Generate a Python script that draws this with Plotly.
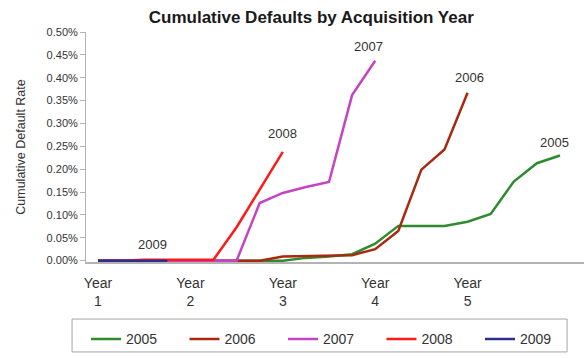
import plotly.graph_objects as go

# Quarter index since acquisition (0 = start of Year 1)
quarters = list(range(21))

# Cumulative default rates (fractions) by acquisition-year cohort
rate_2005 = [0, 0, 0, 0, 0, 0, 0, 0, 0, 0.00006, 0.00009, 0.00014, 0.00037,
             0.00076, 0.00076, 0.00076, 0.00085, 0.00102, 0.00173, 0.00213, 0.00230]
rate_2006 = [0, 0, 0, 0, 0, 0, 0, 0, 0.00009, 0.00010, 0.00011, 0.00012, 0.00025,
             0.00065, 0.00199, 0.00243, 0.00367]
rate_2007 = [0, 0, 0, 0, 0, 0, 0, 0.00126, 0.00148, 0.00161, 0.00172, 0.00362, 0.00437]
rate_2008 = [0, 0, 0.00002, 0.00002, 0.00002, 0.00002, 0.00073, 0.00155, 0.00238]
rate_2009 = [0, 0, 0, 0]

cohorts = ["2005", "2006", "2007", "2008", "2009"]
series = [rate_2005, rate_2006, rate_2007, rate_2008, rate_2009]
colors = ["#2e8b2e", "#a8290f", "#c444c4", "#ff1a1a", "#2e2e8c"]

# Year tick positions and labels
year_ticks = [0, 4, 8, 12, 16]
year_labels = ["Year<br>1", "Year<br>2", "Year<br>3", "Year<br>4", "Year<br>5"]

# Where each cohort's name is written on the chart: (quarter index, xshift, yshift)
label_spots = {
    "2005": (20, -5, 13),
    "2006": (16, 2, 15),
    "2007": (12, -7, 14),
    "2008": (8, 0, 18),
    "2009": (2, 8, 16),
}

FONT = "Arial, Liberation Sans, sans-serif"

fig = go.Figure()
for name, vals, col in zip(cohorts, series, colors):
    fig.add_trace(go.Scatter(
        x=quarters[:len(vals)], y=vals, mode="lines", name=name,
        line=dict(color=col, width=2.5),
    ))

annotations = []
for name, vals in zip(cohorts, series):
    q, dx, dy = label_spots[name]
    annotations.append(dict(
        x=q, y=vals[q], xref="x", yref="y", text=name, showarrow=False,
        xshift=dx, yshift=dy, font=dict(family=FONT, size=13, color="#333333"),
    ))

fig.update_layout(
    width=584, height=358,
    margin=dict(l=86, r=0, t=32, b=96),
    paper_bgcolor="white", plot_bgcolor="white",
    title=dict(text="<b>Cumulative Defaults by Acquisition Year</b>",
               x=0.533, xanchor="center", y=0.953, yanchor="middle",
               font=dict(family=FONT, size=17, color="#1a1a1a")),
    font=dict(family=FONT, color="#333333"),
    showlegend=True,
    legend=dict(orientation="h", x=0.0, xanchor="left", y=-0.267, yanchor="top",
                borderwidth=0, bgcolor="rgba(0,0,0,0)",
                entrywidth=53.5, font=dict(family=FONT, size=14, color="#333333")),
    annotations=annotations,
    # frame around the legend
    shapes=[dict(type="rect", xref="paper", yref="paper",
                 x0=-0.028, x1=0.966, y0=-0.391, y1=-0.248,
                 line=dict(color="#a6a6a6", width=1), fillcolor="rgba(0,0,0,0)",
                 layer="below")],
)

fig.update_xaxes(
    range=[-0.52, 21.04], tickmode="array", tickvals=year_ticks, ticktext=year_labels,
    showline=True, linecolor="#b3b3b3", linewidth=1.5, showgrid=False, zeroline=False,
    ticks="", ticklabelstandoff=7, tickfont=dict(family=FONT, size=14, color="#333333"),
)
fig.update_yaxes(
    range=[-0.00003, 0.005], tickmode="array",
    tickvals=[i * 0.0005 for i in range(11)], tickformat=".2%",
    showline=True, linecolor="#b3b3b3", linewidth=1, showgrid=False, zeroline=False,
    ticks="outside", ticklen=5, tickcolor="#b3b3b3",
    tickfont=dict(family=FONT, size=11, color="#333333"),
    title=dict(text="Cumulative Default Rate", standoff=18,
               font=dict(family=FONT, size=12.5, color="#333333")),
)

fig.write_html("out.html")
